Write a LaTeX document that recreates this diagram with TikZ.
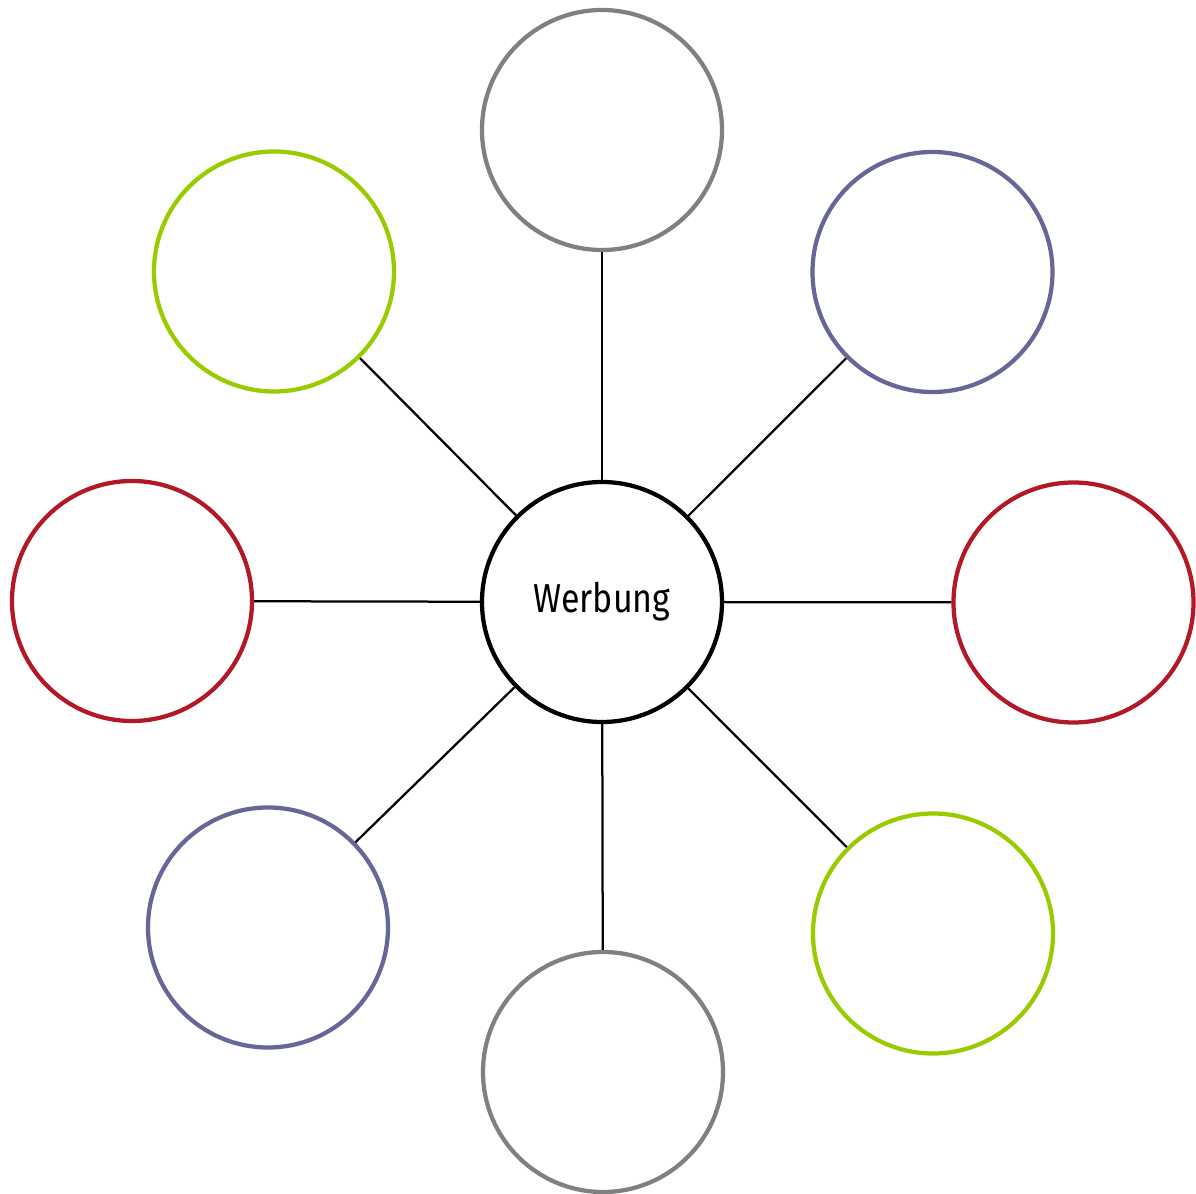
\documentclass[tikz,border=0pt]{standalone}
\usepackage{fontspec}
\setmainfont[FakeStretch=0.84]{Fira Sans}
\usepackage{xcolor}
\usepackage{tikz}
\usetikzlibrary{positioning}
\definecolor{mygray}{RGB}{128,128,128}
\definecolor{mypurple}{RGB}{102,102,153}
\definecolor{myred}{RGB}{178,24,38}
\definecolor{mygreen}{RGB}{153,204,0}
\tikzset{
  hub/.style={circle, draw=black, fill=white, minimum size=4.8cm,
    inner sep=0pt, line width=0.085cm, font=\fontsize{23}{26}\selectfont},
  bubble/.style={circle, draw=#1, fill=white, minimum size=4.8cm,
    inner sep=0pt, line width=0.085cm},
  spoke/.style={line width=0.045cm, color=black}
}
\begin{document}
\begin{tikzpicture}
  \useasboundingbox (0,0) rectangle (23.92,23.86);

  % Centre
  \node[hub] (werbung) at (12.04, 11.82) {Werbung};

  % Outer circles
  \node[bubble=mygray]   (top)      at (12.04, 21.26) {};
  \node[bubble=mypurple] (topright) at (18.65, 18.42) {};
  \node[bubble=myred]    (right)    at (21.47, 11.81) {};
  \node[bubble=mygreen]  (botright) at (18.66, 5.19) {};
  \node[bubble=mygray]   (bottom)   at (12.06, 2.42) {};
  \node[bubble=mypurple] (botleft)  at (5.36, 5.31) {};
  \node[bubble=myred]    (left)     at (2.64, 11.84) {};
  \node[bubble=mygreen]  (topleft)  at (5.48, 18.43) {};

  % Spokes
  \foreach \n in {top, topright, right, botright, bottom, botleft, left, topleft}
    \draw[spoke] (werbung) -- (\n);
\end{tikzpicture}
\end{document}
